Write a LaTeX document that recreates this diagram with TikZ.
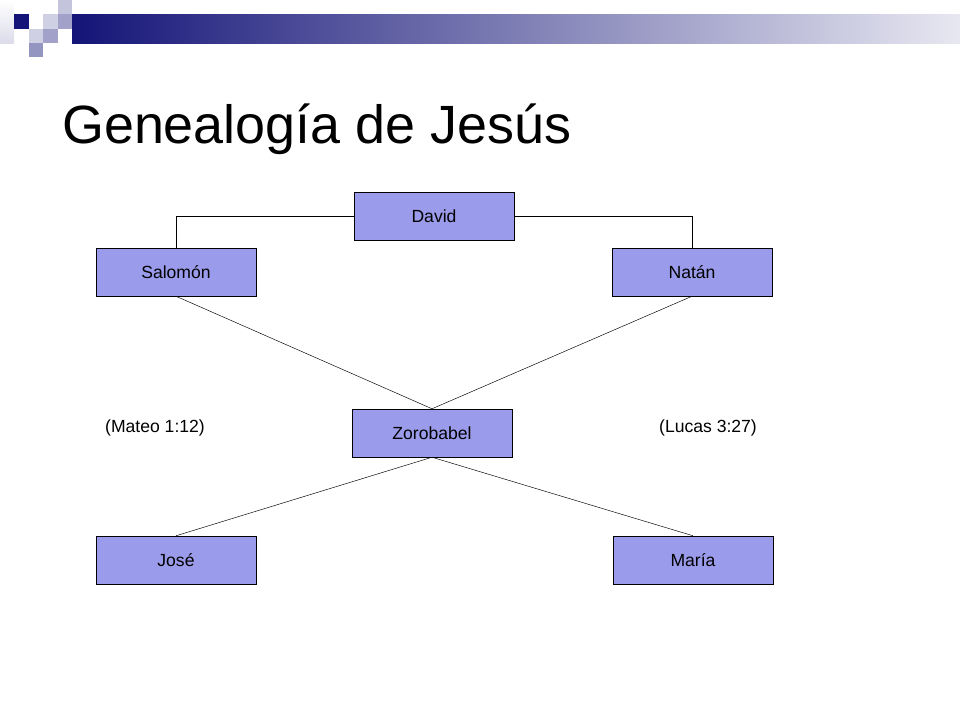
\documentclass[tikz,border=0pt]{standalone}
\usepackage{fontspec}
\setmainfont{Liberation Sans}
\usetikzlibrary{positioning}
\definecolor{boxfill}{RGB}{155,155,235}
\definecolor{navy}{RGB}{20,20,120}
\tikzset{
  person/.style={draw,fill=boxfill,minimum width=4.8cm,minimum height=1.44cm,font=\fontsize{15}{18}\selectfont},
  ref/.style={font=\fontsize{15}{18}\selectfont}
}
\begin{document}
\begin{tikzpicture}[x=0.03cm,y=-0.03cm]
\useasboundingbox (0,0) rectangle (960,720);
% decoration
\shade[top color=white,bottom color=navy!15] (0,0) rectangle (14,43);
\fill[navy!25] (58,0) rectangle (72,14);
\fill[navy] (14,14) rectangle (29,29);
\fill[navy!20] (43,14) rectangle (58,29);
\fill[navy!40] (58,14) rectangle (72,29);
\fill[navy!20] (29,29) rectangle (43,43);
\fill[navy!40] (43,29) rectangle (58,43);
\fill[navy!45] (29,43) rectangle (43,57);
\shade[left color=navy,right color=navy!10] (72,14) rectangle (960,43);
\node[anchor=base west,font=\fontsize{46}{50}\selectfont] (title) at (58,143) {Genealogía de Jesús};
% people
\node[person] (david) at (434,216) {David};
\node[person] (salomon) at (176,272) {Salomón};
\node[person] (natan) at (692,272) {Natán};
\node[person] (zoro) at (432,433) {Zorobabel};
\node[person] (jose) at (176,560) {José};
\node[person] (maria) at (693,560) {María};
\node[ref] (mateo) at (155,428) {(Mateo 1:12)};
\node[ref] (lucas) at (708,428) {(Lucas 3:27)};
% links
\draw (david.west) -| (salomon.north);
\draw (david.east) -| (natan.north);
\draw (salomon.south) -- (zoro.north);
\draw (natan.south) -- (zoro.north);
\draw (zoro.south) -- (jose.north);
\draw (zoro.south) -- (maria.north);
\end{tikzpicture}
\end{document}
